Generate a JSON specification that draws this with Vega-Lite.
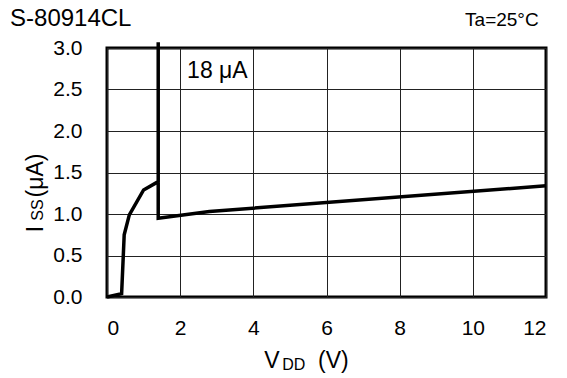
{
  "$schema": "https://vega.github.io/schema/vega-lite/v6.json",
  "width": 439,
  "height": 249,
  "autosize": {"type": "none"},
  "padding": {"left": 107, "top": 48, "right": 21, "bottom": 81},
  "background": "white",
  "config": {
    "font": "Liberation Sans",
    "view": {"stroke": "black", "strokeWidth": 3},
    "text": {"font": "Liberation Sans", "color": "black", "baseline": "alphabetic"},
    "axis": {"domain": false, "ticks": false, "grid": true, "gridColor": "#222", "gridWidth": 1, "gridOpacity": 1, "labelFont": "Liberation Sans", "labelFontSize": 21, "labelColor": "black", "title": null}
  },
  "datasets": {
    "curve": [
      {"v": 0.0, "i": 0.0, "o": 1},
      {"v": 0.4, "i": 0.04, "o": 2},
      {"v": 0.47, "i": 0.75, "o": 3},
      {"v": 0.61, "i": 0.99, "o": 4},
      {"v": 1.0, "i": 1.29, "o": 5},
      {"v": 1.4, "i": 1.39, "o": 6},
      {"v": 1.4, "i": 3.07, "o": 7},
      {"v": 1.4, "i": 0.95, "o": 8},
      {"v": 2.8, "i": 1.03, "o": 9},
      {"v": 12.0, "i": 1.34, "o": 10}
    ],
    "titleText": [
      {"v": -2.65, "i": 3.27, "t": "S-80914CL"}
    ],
    "bigText": [
      {"v": 2.19, "i": 2.64, "t": "18 μA"},
      {"v": 4.3, "i": -0.85, "t": "V"},
      {"v": 5.77, "i": -0.85, "t": "(V)"}
    ],
    "subText": [
      {"v": 4.79, "i": -0.88, "t": "DD"}
    ],
    "yBig": [
      {"v": -1.75, "i": 0.78, "t": "I"},
      {"v": -1.75, "i": 1.2, "t": "(μA)"}
    ],
    "ySub": [
      {"v": -1.75, "i": 0.92, "t": "SS"}
    ],
    "note": [
      {"v": 11.8, "i": 3.26, "t": "Ta=25°C"}
    ]
  },
  "encoding": {
    "x": {"field": "v", "type": "quantitative", "scale": {"domain": [0, 12], "nice": false, "zero": false},
      "axis": {"values": [0, 2, 4, 6, 8, 10, 12], "labelPadding": 20}},
    "y": {"field": "i", "type": "quantitative", "scale": {"domain": [0, 3], "nice": false, "zero": false},
      "axis": {"values": [0, 0.5, 1, 1.5, 2, 2.5, 3], "format": ".1f", "labelPadding": 25}}
  },
  "layer": [
    {
      "data": {"name": "curve"},
      "mark": {"type": "line", "color": "black", "strokeWidth": 3.5, "clip": false, "strokeJoin": "miter"},
      "encoding": {"order": {"field": "o", "type": "quantitative"}}
    },
    {
      "data": {"name": "titleText"},
      "mark": {"type": "text", "align": "left", "fontSize": 24},
      "encoding": {"text": {"field": "t"}}
    },
    {
      "data": {"name": "bigText"},
      "mark": {"type": "text", "align": "left", "fontSize": 23},
      "encoding": {"text": {"field": "t"}}
    },
    {
      "data": {"name": "subText"},
      "mark": {"type": "text", "align": "left", "fontSize": 16},
      "encoding": {"text": {"field": "t"}}
    },
    {
      "data": {"name": "yBig"},
      "mark": {"type": "text", "align": "left", "fontSize": 23, "angle": 270},
      "encoding": {"text": {"field": "t"}}
    },
    {
      "data": {"name": "ySub"},
      "mark": {"type": "text", "align": "left", "fontSize": 16, "angle": 270},
      "encoding": {"text": {"field": "t"}}
    },
    {
      "data": {"name": "note"},
      "mark": {"type": "text", "align": "right", "fontSize": 19},
      "encoding": {"text": {"field": "t"}}
    }
  ]
}
